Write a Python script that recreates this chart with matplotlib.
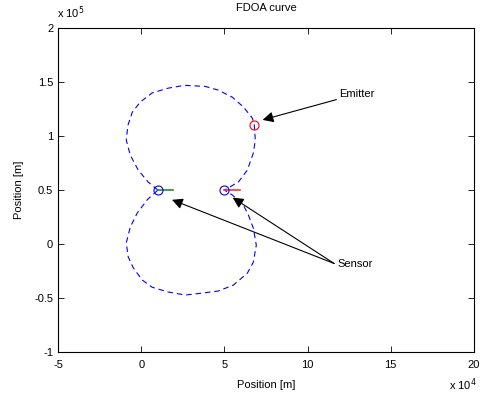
import numpy as np
import matplotlib
matplotlib.use('Agg')
import matplotlib.pyplot as plt
from matplotlib.ticker import FuncFormatter

plt.rcParams['font.family'] = ['Liberation Sans', 'DejaVu Sans']

# FDOA curve (x in 1e4 m, y in 1e5 m)
upper_x = [1.0, 0.42, -0.18, -0.66, -0.90, -0.80, -0.54, -0.06, 0.66, 1.62, 2.6,
           3.85, 4.63, 5.48, 6.14, 6.68, 6.80, 6.86, 6.74, 6.38, 5.84, 5.0]
upper_y = [0.5, 0.574, 0.685, 0.824, 0.963, 1.10, 1.22, 1.315, 1.40, 1.444, 1.47,
           1.46, 1.426, 1.36, 1.27, 1.167, 1.10, 0.963, 0.843, 0.685, 0.574, 0.5]
lower_x = [1.0, 0.36, -0.24, -0.66, -0.90, -0.78, -0.48, 0.06, 0.66, 1.62, 2.65,
           3.67, 4.63, 5.54, 6.38, 6.74, 6.92, 6.74, 6.44, 6.08, 5.48, 5.0]
lower_y = [0.5, 0.41, 0.287, 0.157, 0.01, -0.12, -0.22, -0.333, -0.40, -0.444, -0.472,
           -0.454, -0.435, -0.38, -0.27, -0.167, -0.01, 0.148, 0.27, 0.38, 0.454, 0.5]

sensor_x = [1.0e4, 5.0e4]
sensor_y = [0.5e5, 0.5e5]
vel_dx = [0.9e4, 0.95e4]
vel_colors = ['#2a8a2a', '#ff3030']
emitter = (6.8e4, 1.1e5)

curve_x = np.array(upper_x + lower_x[::-1]) * 1e4
curve_y = np.array(upper_y + lower_y[::-1]) * 1e5

fig = plt.figure(figsize=(4.88, 3.96), dpi=100)
ax = fig.add_axes([0.119, 0.111, 0.852, 0.818])

ax.plot(curve_x, curve_y, color='blue', lw=0.8, dashes=(5, 3.5))
for sx, sy, dx, c in zip(sensor_x, sensor_y, vel_dx, vel_colors):
    ax.plot([sx, sx + dx], [sy, sy], color=c, lw=1.2)
ax.plot(sensor_x, sensor_y, 'o', mfc='none', mec='blue', ms=6.5, mew=0.8)
ax.plot(emitter[0], emitter[1], 'o', mfc='none', mec='red', ms=6.5, mew=0.8)

arrow = dict(arrowstyle='-|>', color='black', lw=0.8, mutation_scale=16,
             shrinkA=0, shrinkB=0)
ax.annotate('Emitter', xy=(7.3e4, 1.15e5), xytext=(11.9e4, 1.39e5),
            fontsize=8, va='center', ha='left', arrowprops=arrow)
for tx, ty in [(1.85e4, 0.41e5), (5.5e4, 0.43e5)]:
    ax.annotate('', xy=(tx, ty), xytext=(11.6e4, -0.18e5), arrowprops=arrow)
ax.text(11.8e4, -0.185e5, 'Sensor', fontsize=8, va='center', ha='left')

ax.set_xlim(-5e4, 20e4)
ax.set_ylim(-1e5, 2e5)
ax.set_xticks(np.arange(-5e4, 20.1e4, 5e4))
ax.set_yticks(np.arange(-1e5, 2.01e5, 0.5e5))
ax.xaxis.set_major_formatter(FuncFormatter(lambda v, p: '%g' % (v / 1e4)))
ax.yaxis.set_major_formatter(FuncFormatter(lambda v, p: '%g' % (v / 1e5)))
ax.tick_params(direction='in', top=True, right=True, labelsize=8, length=4, width=0.6)
ax.tick_params(axis='x', pad=6)
for s in ax.spines.values():
    s.set_linewidth(0.8)

ax.set_title('FDOA curve', fontsize=8, pad=12)
ax.set_xlabel('Position [m]', fontsize=8, labelpad=7)
ax.set_ylabel('Position [m]', fontsize=8, labelpad=7)
fig.text(0.117, 0.947, r'x 10$^{5}$', fontsize=8, ha='left', va='bottom')
fig.text(0.976, 0.008, r'x 10$^{4}$', fontsize=8, ha='right', va='bottom')

fig.savefig('out.png', dpi=100)
